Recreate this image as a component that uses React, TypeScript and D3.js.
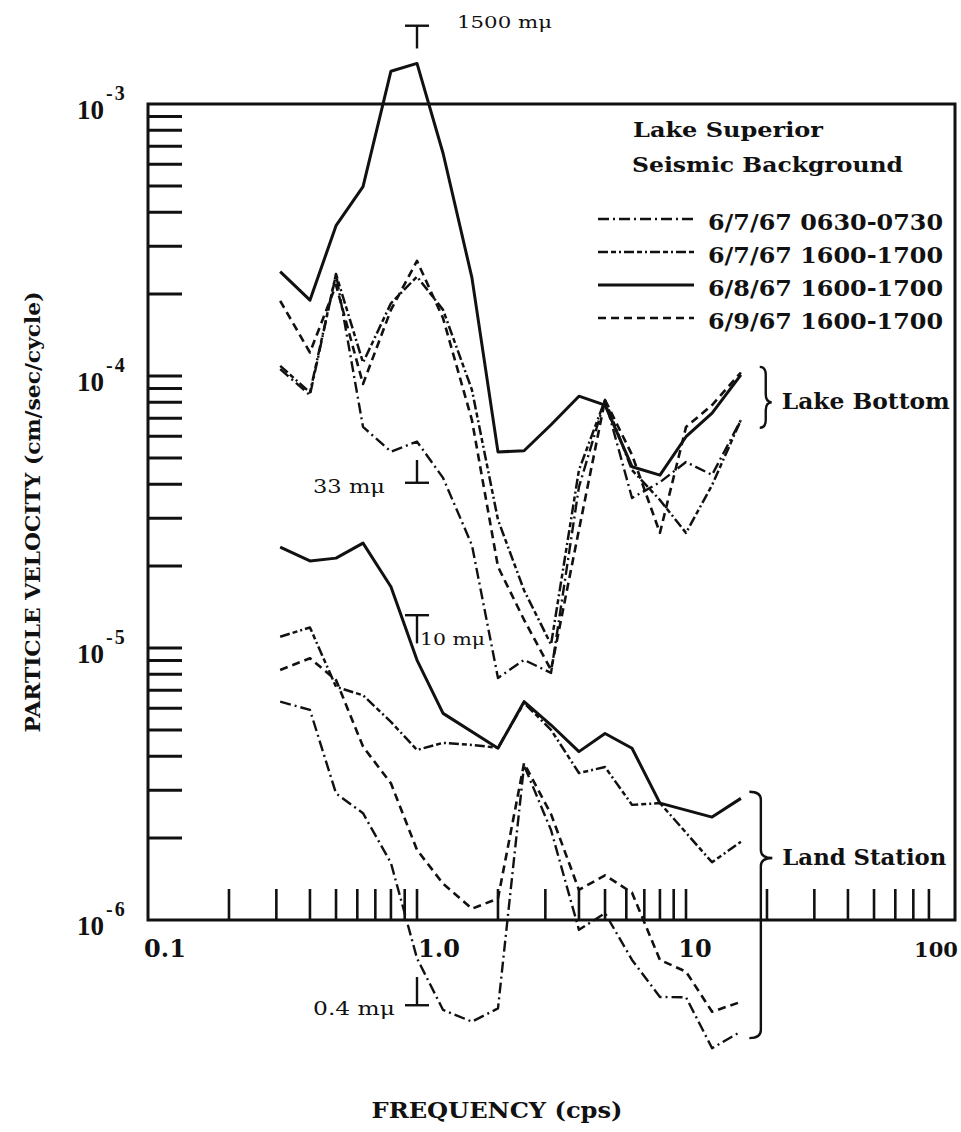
import React from "react";
import * as d3 from "d3";

// ---------- data ----------
const FREQ = [0.31, 0.4, 0.5, 0.63, 0.8, 1.0, 1.25, 1.6, 2.0, 2.5, 3.15, 4, 5, 6.3, 8, 10, 12.5, 16];

// Lake bottom
const LAKE_0607_0630 = [1.06e-4, 8.5e-5, 2.37e-4, 6.5e-5, 5.27e-5, 5.74e-5, 4.22e-5, 2.39e-5, 7.76e-6, 9.04e-6, 8.1e-6, 3.91e-5, 8.17e-5, 3.56e-5, 4.07e-5, 4.83e-5, 4.33e-5, 6.89e-5];
const LAKE_0607_1600 = [1.09e-4, 8.7e-5, 2.37e-4, 1.12e-4, 1.85e-4, 2.32e-4, 1.75e-4, 8.9e-5, 2.96e-5, 1.63e-5, 1.03e-5, 4.51e-5, 8.17e-5, 4.51e-5, 3.5e-5, 2.65e-5, 3.97e-5, 6.89e-5];
const LAKE_0608_1600 = [2.42e-4, 1.9e-4, 3.57e-4, 4.97e-4, 1.32e-3, 1.41e-3, 6.59e-4, 2.3e-4, 5.26e-5, 5.31e-5, 6.62e-5, 8.43e-5, 7.82e-5, 4.64e-5, 4.32e-5, 5.98e-5, 7.3e-5, 1.01e-4];
const LAKE_0609_1600 = [1.89e-4, 1.22e-4, 2.16e-4, 9.35e-5, 1.75e-4, 2.65e-4, 1.63e-4, 6.89e-5, 1.99e-5, 1.27e-5, 8.3e-6, 2.72e-5, 8.17e-5, 5.13e-5, 2.65e-5, 6.49e-5, 7.82e-5, 1.03e-4];

// Land station
const LAND_0607_0630 = [6.35e-6, 5.92e-6, 2.92e-6, 2.47e-6, 1.62e-6, 7.23e-7, 4.67e-7, 4.23e-7, 4.73e-7, 3.7e-6, 2.14e-6, 9.2e-7, 1.06e-6, 7.13e-7, 5.21e-7, 5.2e-7, 3.38e-7, 3.89e-7];
const LAND_0607_1600 = [1.1e-5, 1.19e-5, 7.2e-6, 6.7e-6, 5.35e-6, 4.22e-6, 4.48e-6, 4.4e-6, 4.3e-6, 6.28e-6, 5.0e-6, 3.47e-6, 3.65e-6, 2.65e-6, 2.69e-6, null, 1.63e-6, 1.94e-6];
const LAND_0608_1600 = [2.35e-5, 2.09e-5, 2.14e-5, 2.43e-5, 1.68e-5, 9.03e-6, 5.75e-6, null, 4.28e-6, 6.35e-6, 5.21e-6, 4.16e-6, 4.85e-6, 4.28e-6, 2.69e-6, null, 2.39e-6, 2.8e-6];
const LAND_0609_1600 = [8.3e-6, 9.17e-6, 7.62e-6, 4.34e-6, 3.18e-6, 1.81e-6, 1.36e-6, 1.1e-6, 1.2e-6, 3.77e-6, 2.45e-6, 1.29e-6, 1.46e-6, 1.26e-6, 7.13e-7, 6.46e-7, 4.6e-7, 5.0e-7];

const LEGEND_LABELS = ["6/7/67 0630-0730", "6/7/67 1600-1700", "6/8/67 1600-1700", "6/9/67 1600-1700"];
const TITLE_LINES = ["Lake Superior", "Seismic Background"];
const X_TICK_LABELS = ["0.1", "1.0", "10", "100"];
const X_TICK_VALUES = [0.1, 1, 10, 100];
const Y_DECADES = [1e-3, 1e-4, 1e-5, 1e-6];
const Y_EXPONENTS = ["-3", "-4", "-5", "-6"];
const X_MINOR = [0.2, 0.3, 0.4, 0.5, 0.6, 0.7, 0.8, 0.9, 1, 2, 3, 4, 5, 6, 7, 8, 9, 10, 20, 30, 40, 50, 60, 70, 80];
const Y_MINOR = [2e-6, 3e-6, 4e-6, 5e-6, 6e-6, 7e-6, 8e-6, 9e-6, 1e-5, 2e-5, 3e-5, 4e-5, 5e-5, 6e-5, 7e-5, 8e-5, 9e-5, 1e-4, 2e-4, 3e-4, 4e-4, 5e-4, 6e-4, 7e-4, 8e-4, 9e-4];

// level markers (T / ⊥) at 1.0 cps
const MARKER_LABELS = ["1500 mμ", "33 mμ", "10 mμ", "0.4 mμ"];
const MARKER_TOP = [1.94e-3, 4.91e-5, 1.32e-5, 6.17e-7];
const MARKER_BOTTOM = [1.6e-3, 4.05e-5, 1.04e-5, 4.86e-7];
const MARKER_CAP = ["top", "bottom", "top", "bottom"];

// group braces
const GROUP_LABELS = ["Lake Bottom", "Land Station"];
const GROUP_TOP = [1.08e-4, 2.96e-6];
const GROUP_MID = [8.0e-5, 1.69e-6];
const GROUP_BOTTOM = [6.45e-5, 3.68e-7];

// ---------- styling ----------
const W = 961;
const H = 1132;
const STYLES = [
  { dash: "11,4,2,4", width: 2.4 },
  { dash: "10,3,5,3,2,3", width: 2.5 },
  { dash: null, width: 3 },
  { dash: "8,5", width: 2.6 },
];
const FONT = "'DejaVu Serif', 'Liberation Serif', serif";
const NARROW = "'Liberation Serif', 'DejaVu Serif', serif";

export default function App() {
  const x = d3.scaleLog().domain([0.1, 100]).range([148, 955]);
  const y = d3.scaleLog().domain([1e-6, 1e-3]).range([920, 104]);

  const line = d3
    .line<[number, number]>()
    .x((d) => x(d[0]))
    .y((d) => y(d[1]));

  const toPts = (vals: (number | null)[]) =>
    FREQ.map((f, i) => [f, vals[i]] as [number, number | null]).filter((d) => d[1] != null) as [number, number][];

  const lake = [LAKE_0607_0630, LAKE_0607_1600, LAKE_0608_1600, LAKE_0609_1600];
  const land = [LAND_0607_0630, LAND_0607_1600, LAND_0608_1600, LAND_0609_1600];

  const x0 = x(0.1), x1 = x(100), yTop = y(1e-3), yBot = y(1e-6);

  const labelDx = [17, 22, 9, -19];
  const labelSize = [24, 24, 24, 21];
  const markerLabelPos = [
    { dx: 40, dy: 2, len: 95, size: 17 },
    { dx: -104, dy: 10, len: 72, size: 18 },
    { dx: 3, dy: 30, len: 65, size: 17 },
    { dx: -104, dy: 10, len: 82, size: 18 },
  ];

  const bracePath = (gx: number, top: number, mid: number, bot: number, wide: number) => {
    const xa = gx, xm = gx + wide * 0.5, xp = gx + wide, r = 8;
    return `M${xa},${top} Q${xm},${top} ${xm},${top + r} L${xm},${mid - r} Q${xm},${mid} ${xp},${mid} Q${xm},${mid} ${xm},${mid + r} L${xm},${bot - r} Q${xm},${bot} ${xa},${bot}`;
  };
  const braceX = [x(18.8), x(17.2)];
  const braceW = [12, 23];

  return (
    <svg
      width={W}
      height={H}
      viewBox={`0 0 ${W} ${H}`}
      style={{ position: "absolute", left: 0, top: 0, background: "#fff" }}
      fontFamily={FONT}
    >
      <rect x={0} y={0} width={W} height={H} fill="#fff" />
      {/* frame */}
      <rect x={x0} y={yTop} width={x1 - x0} height={yBot - yTop} fill="none" stroke="#111" strokeWidth={3} />
      {/* x minor ticks */}
      {X_MINOR.map((v) => (
        <line key={"xt" + v} x1={x(v)} x2={x(v)} y1={yBot} y2={yBot - 31} stroke="#111" strokeWidth={2.6} />
      ))}
      {/* y minor ticks */}
      {Y_MINOR.map((v) => (
        <line key={"yt" + v} x1={x0} x2={x0 + 34} y1={y(v)} y2={y(v)} stroke="#111" strokeWidth={3} />
      ))}
      {/* x tick labels */}
      {X_TICK_VALUES.map((v, i) => (
        <text
          key={"xl" + i}
          x={x(v) + labelDx[i]}
          y={yBot + 37}
          textAnchor="middle"
          fontSize={labelSize[i]}
          fontWeight="bold"
          fill="#111"
        >
          {X_TICK_LABELS[i]}
        </text>
      ))}
      {/* y tick labels: 10 with superscript exponent in one text */}
      {Y_DECADES.map((v, i) => (
        <text key={"yl" + i} x={77} y={y(v) + 15} fontFamily={NARROW} fontWeight="bold" fill="#111">
          <tspan fontSize={27}>10</tspan>
          <tspan fontSize={20} dx={2} dy={-19} letterSpacing={2}>
            {Y_EXPONENTS[i]}
          </tspan>
        </text>
      ))}
      {/* axis titles */}
      <text x={497} y={1118} textAnchor="middle" fontSize={23} fontWeight="bold" fill="#111" textLength={251} lengthAdjust="spacingAndGlyphs">
        FREQUENCY (cps)
      </text>
      <text
        transform={`translate(40,512) rotate(-90)`}
        textAnchor="middle"
        fontSize={21}
        fontWeight="bold"
        fill="#111"
        textLength={441}
        lengthAdjust="spacingAndGlyphs"
      >
        PARTICLE VELOCITY (cm/sec/cycle)
      </text>

      {/* curves */}
      {[...lake, ...land].map((vals, i) => {
        const st = STYLES[i % 4];
        return (
          <path
            key={"c" + i}
            d={line(toPts(vals)) || ""}
            fill="none"
            stroke="#111"
            strokeWidth={st.width}
            strokeDasharray={st.dash || undefined}
            strokeLinejoin="round"
          />
        );
      })}

      {/* level markers */}
      {MARKER_LABELS.map((lab, i) => {
        const mx = x(1);
        const t = y(MARKER_TOP[i]);
        const b = y(MARKER_BOTTOM[i]);
        const capY = MARKER_CAP[i] === "top" ? t : b;
        const p = markerLabelPos[i];
        return (
          <g key={"m" + i}>
            <line x1={mx} x2={mx} y1={t} y2={b} stroke="#111" strokeWidth={2.4} />
            <line x1={mx - 12} x2={mx + 12} y1={capY} y2={capY} stroke="#111" strokeWidth={2.4} />
            <text
              x={mx + p.dx}
              y={capY + p.dy}
              fontSize={p.size}
              fill="#111"
              textLength={p.len}
              lengthAdjust="spacingAndGlyphs"
            >
              {lab}
            </text>
          </g>
        );
      })}

      {/* legend */}
      <text x={633} y={137} fontSize={21} fontWeight="bold" fill="#111" textLength={190} lengthAdjust="spacingAndGlyphs">
        {TITLE_LINES[0]}
      </text>
      <text x={632} y={172} fontSize={21} fontWeight="bold" fill="#111" textLength={271} lengthAdjust="spacingAndGlyphs">
        {TITLE_LINES[1]}
      </text>
      {LEGEND_LABELS.map((lab, i) => {
        const ly = 219 + i * 33;
        const st = STYLES[i];
        return (
          <g key={"lg" + i}>
            <line x1={598} x2={694} y1={ly} y2={ly} stroke="#111" strokeWidth={st.width} strokeDasharray={st.dash || undefined} />
            <text x={708} y={ly + 11} fontSize={22} fontWeight="bold" fill="#111" textLength={235} lengthAdjust="spacingAndGlyphs">
              {lab}
            </text>
          </g>
        );
      })}

      {/* braces */}
      {GROUP_LABELS.map((lab, i) => {
        const t = y(GROUP_TOP[i]);
        const m = y(GROUP_MID[i]);
        const b = y(GROUP_BOTTOM[i]);
        const bx = braceX[i];
        return (
          <g key={"g" + i}>
            <path d={bracePath(bx, t, m, b, braceW[i])} fill="none" stroke="#111" strokeWidth={2.4} />
            <text
              x={bx + braceW[i] + 10}
              y={m + 7}
              fontSize={22}
              fontWeight="bold"
              fill="#111"
              textLength={i === 0 ? 168 : 164}
              lengthAdjust="spacingAndGlyphs"
            >
              {lab}
            </text>
          </g>
        );
      })}
    </svg>
  );
}
